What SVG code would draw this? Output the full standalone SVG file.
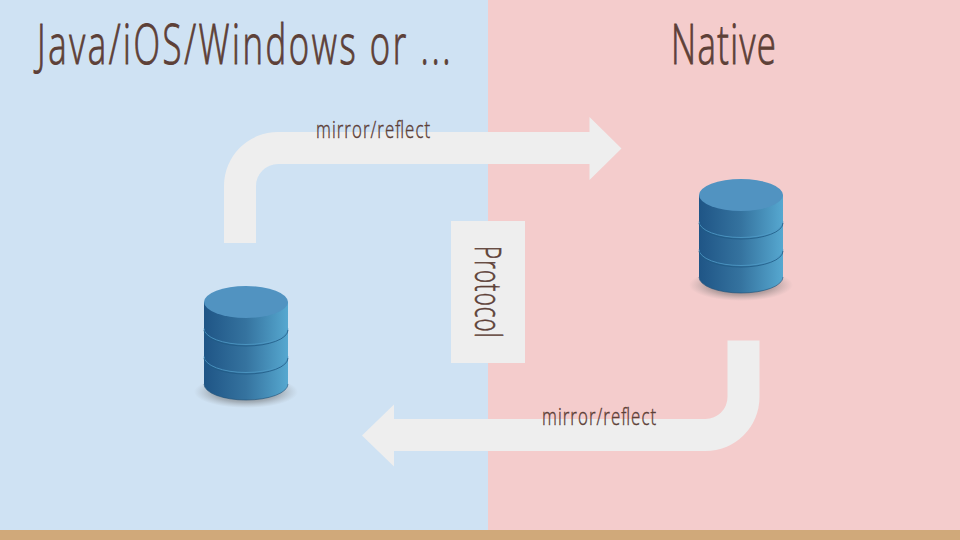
<svg xmlns="http://www.w3.org/2000/svg" width="960" height="540" viewBox="0 0 960 540">
<style>
.t{font-family:"Open Sans","Noto Sans","Liberation Sans",sans-serif;font-weight:300;fill:#5d4037;stroke:#5d4037}
.big{stroke-width:1}
.small{stroke-width:0.45}
.mid{stroke-width:0.6}
.arrow{fill:#eeeeee}
.band{fill:none;stroke:#1f5a85;stroke-width:0.8}
.hi{fill:none;stroke:#4f9ac6;stroke-width:0.8}
</style>
<defs>
<linearGradient id="side" x1="0" x2="1" y1="0" y2="0"><stop offset="0" stop-color="#1f5586"/><stop offset="0.5" stop-color="#35739f"/><stop offset="1" stop-color="#56a8d0"/></linearGradient>
<radialGradient id="sh" cx="0.5" cy="0.5" r="0.5"><stop offset="0" stop-color="#444" stop-opacity="0.85"/><stop offset="0.65" stop-color="#666" stop-opacity="0.4"/><stop offset="1" stop-color="#888" stop-opacity="0"/></radialGradient>
<g id="db">
<ellipse cx="42" cy="106" rx="52" ry="16" fill="url(#sh)"/>
<path d="M0 16V98A42 16 0 0 0 84 98V16Z" fill="url(#side)"/>
<path class="hi" d="M0 42.500A42 16 0 0 0 84 42.500"/>
<path class="band" d="M0 44A42 16 0 0 0 84 44"/>
<path class="hi" d="M0 70.500A42 16 0 0 0 84 70.500"/>
<path class="band" d="M0 72A42 16 0 0 0 84 72"/>
<path d="M0 98A42 16 0 0 0 84 98" fill="none" stroke="#1c5078" stroke-width="0.6"/>
<ellipse cx="42" cy="16" rx="42" ry="16" fill="#5193c1"/>
</g>
</defs>
<g id="background">
<rect x="0" y="0" width="488" height="530" fill="#cfe2f3"/>
<rect x="488" y="0" width="472" height="530" fill="#f4cccc"/>
<rect x="0" y="530" width="960" height="10" fill="#d0a97a"/>
</g>
<g id="connectors">
<path id="arrow-top" class="arrow" d="M224 243V186A54 54 0 0 1 278 132H589.500V117L621.500 148.500L589.500 180V164H278A22 22 0 0 0 256 186V243Z"/>
<path id="arrow-bottom" class="arrow" d="M759.500 340.500V397A54 54 0 0 1 705.500 451H394V466.500L362 435.500L394 404.500V419H705.500A22 22 0 0 0 727.500 397V340.500Z"/>
</g>
<g id="title-left"><text class="t big" transform="translate(37 64) scale(.62 1)" font-size="56" textLength="667" lengthAdjust="spacing">Java/iOS/Windows or ...</text></g>
<g id="title-right"><text class="t big" transform="translate(671 64) scale(.62 1)" font-size="56" textLength="169" lengthAdjust="spacing">Native</text></g>
<g id="label-top"><text class="t small" transform="translate(316 138) scale(.7 1)" font-size="24" textLength="163" lengthAdjust="spacing">mirror/reflect</text></g>
<g id="label-bottom"><text class="t small" transform="translate(542 425) scale(.7 1)" font-size="24" textLength="163" lengthAdjust="spacing">mirror/reflect</text></g>
<g id="protocol">
<rect x="451" y="221" width="74" height="142" fill="#eeeeee"/>
<text class="t mid" transform="translate(475 246) rotate(90) scale(.62 1)" font-size="36" textLength="148" lengthAdjust="spacing">Protocol</text>
</g>
<g id="db-left"><use href="#db" x="204" y="286"/></g>
<g id="db-right"><use href="#db" x="699" y="179"/></g>
</svg>
